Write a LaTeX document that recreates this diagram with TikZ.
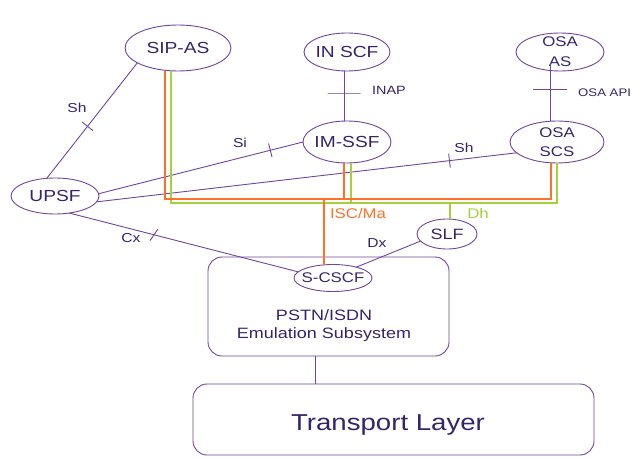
\documentclass[tikz,border=0pt]{standalone}
\usepackage{fontspec}
\setmainfont{Liberation Sans}[FakeStretch=1.2]
\usetikzlibrary{shapes.geometric,calc}
\definecolor{linec}{RGB}{112,70,155}
\definecolor{txtc}{RGB}{55,35,105}
\definecolor{orng}{RGB}{255,112,40}
\definecolor{grn}{RGB}{168,206,60}
\begin{document}
\begin{tikzpicture}[x=1pt,y=-1pt,
  ell/.style={ellipse, draw=linec, line width=0.9pt, inner sep=0pt, outer sep=0pt},
  ntxt/.style={text=txtc, font=\fontsize{16}{19}\selectfont, align=center, inner sep=0pt},
  conn/.style={draw=linec, line width=0.9pt},
  tickmark/.style={sloped, draw=linec, line width=0.9pt, inner sep=0pt, outer sep=0pt, minimum width=0pt, minimum height=#1},
  tickmark/.default=14pt,
  lbl/.style={text=txtc, font=\fontsize{13}{15}\selectfont, inner sep=0pt},
  isc/.style={draw=orng, line width=2pt},
  dh/.style={draw=grn, line width=2pt},
  box/.style={draw=linec, line width=0.9pt, rounded corners=14pt, inner sep=0pt}]
\useasboundingbox (0,0) rectangle (636,457);
\fill[white] (0,0) rectangle (636,457);

% nodes
\node[ell, minimum width=106, minimum height=46, label={[ntxt]center:SIP-AS}] (sipas) at (178,48) {};
\node[ell, minimum width=88, minimum height=36, label={[ntxt]center:UPSF}] (upsf) at (55,196) {};
\node[ell, minimum width=86, minimum height=38, label={[ntxt]center:IN SCF}] (inscf) at (347,52) {};
\node[ell, minimum width=88, minimum height=42, label={[ntxt]center:IM-SSF}] (imssf) at (347,142) {};
\node[ell, minimum width=88, minimum height=38, label={[ntxt, font=\fontsize{14}{20}\selectfont]center:{OSA\\AS}}] (osaas) at (560,52) {};
\node[ell, minimum width=94, minimum height=42, label={[ntxt, font=\fontsize{14}{19}\selectfont]center:{OSA\\SCS}}] (osascs) at (557,142) {};
\node[ell, minimum width=60, minimum height=30, label={[ntxt, font=\fontsize{15}{18}\selectfont]center:SLF}] (slf) at (447,234) {};
\node[box, minimum width=241, minimum height=99] (pstn) at (328.5,306.5) {};
\node[ell, minimum width=78, minimum height=27, label={[ntxt, font=\fontsize{14}{17}\selectfont]center:S-CSCF}] (scscf) at (333,278) {};
\node[ntxt, font=\fontsize{15}{18}\selectfont] (pstntxt) at (324,326) {PSTN/ISDN\\Emulation Subsystem};
\node[box, minimum width=401, minimum height=71] (transport) at (393.5,419.5) {};
\node[ntxt, font=\fontsize{23}{27}\selectfont] (transporttxt) at (388,425) {Transport Layer};

% purple connectors
\draw[conn] (sipas.200) -- (upsf.115) node[tickmark, pos=0.55] {};
\node[lbl] (lsh1) at (77,108) {Sh};
\draw[conn] (upsf.3) -- (imssf.west) node[tickmark, pos=0.84] {};
\node[lbl] (lsi) at (240,143) {Si};
\draw[conn] (upsf.-8) -- (osascs.195) node[tickmark, pos=0.84] {};
\node[lbl] (lsh2) at (464,148) {Sh};
\draw[conn] (upsf.-50) -- (scscf.170) node[tickmark, pos=0.37, rotate=-20] {};
\node[lbl] (lcx) at (131,238) {Cx};
\draw[conn] (slf.195) -- (scscf.25);
\node[lbl] (ldx) at (377,243) {Dx};
\draw[conn] ([xshift=-3pt]inscf.south) -- ([xshift=-3pt]imssf.north) node[tickmark=33pt, pos=0.44] {};
\node[lbl, anchor=west, font=\fontsize{12}{14}\selectfont] (linap) at (372,90) {INAP};
\draw[conn] ([xshift=-10pt,yshift=-11pt]osaas.center) -- ([xshift=-7pt]osascs.north) node[tickmark=34pt, pos=0.45] {};
\node[lbl, anchor=west, font=\fontsize{11}{13}\selectfont] (losa) at (578,93) {OSA API};
\draw[conn] ([xshift=-13.5pt]pstn.south) -- ([xshift=-13.5pt]pstn.south |- transport.north);

% buses
\coordinate (obus) at (0,199);
\coordinate (gbus) at (0,203);
\draw[dh] ([xshift=-7pt]sipas.south) -- ([xshift=-7pt]sipas.south |- gbus) -- (osascs.south |- gbus) -- (osascs.south);
\draw[dh] ([xshift=4pt]imssf.south) -- ([xshift=4pt]imssf.south |- gbus);
\draw[dh] ([xshift=3pt]slf.north |- gbus) -- ([xshift=3pt]slf.north);
\draw[isc] ([xshift=-13.5pt]sipas.south) -- ([xshift=-13.5pt]sipas.south |- obus) -- ([xshift=-6pt]osascs.south |- obus) -- ([xshift=-6pt]osascs.south);
\draw[isc] ([xshift=-3pt]imssf.south) -- ([xshift=-3pt]imssf.south |- obus);
\draw[isc] ([xshift=-9pt]scscf.north |- obus) -- ([xshift=-9pt]scscf.north);
\node[text=orng, font=\fontsize{14}{16}\selectfont, inner sep=0pt] (lisc) at (358,213) {ISC/Ma};
\node[text=grn, font=\fontsize{14}{16}\selectfont, inner sep=0pt] (ldh) at (478,213) {Dh};
\end{tikzpicture}
\end{document}
